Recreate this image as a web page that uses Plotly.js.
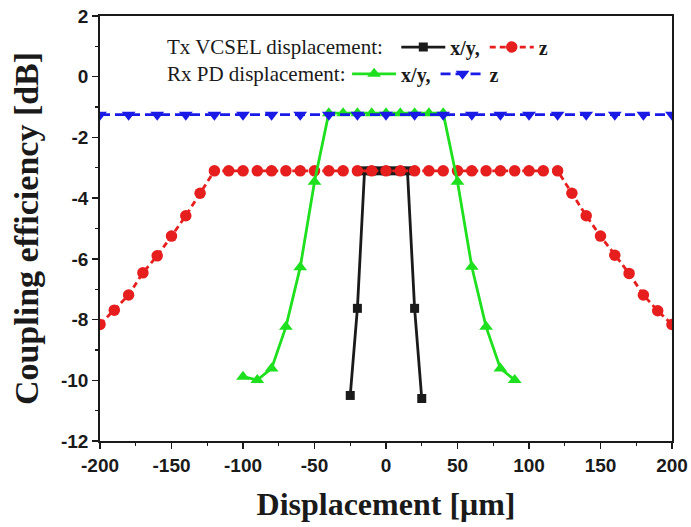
<!DOCTYPE html>
<html>
<head>
<meta charset="utf-8">
<script src="https://cdn.plot.ly/plotly-3.0.1.min.js"></script>
<style>html,body{margin:0;padding:0;background:#fff;}#chart{width:691px;height:527px;}</style>
</head>
<body>
<div id="chart"></div>
<script>
// ---- data ----
const txXYx = [-25, -20, -15, -10, -5, 0, 5, 10, 15, 20, 25];
const txXYy = [-10.5, -7.63, -3.1, -3.1, -3.1, -3.1, -3.1, -3.1, -3.1, -7.63, -10.6];

const txZx = [-200, -190, -180, -170, -160, -150, -140, -130, -120, -110, -100, -90, -80, -70, -60, -50, -40, -30, -20, -10, 0,
              10, 20, 30, 40, 50, 60, 70, 80, 90, 100, 110, 120, 130, 140, 150, 160, 170, 180, 190, 200];
const txZy = [-8.16, -7.69, -7.19, -6.46, -5.9, -5.25, -4.58, -3.84, -3.1, -3.1, -3.1, -3.1, -3.1, -3.1, -3.1, -3.1, -3.1, -3.1, -3.1, -3.1, -3.1,
              -3.1, -3.1, -3.1, -3.1, -3.1, -3.1, -3.1, -3.1, -3.1, -3.1, -3.1, -3.1, -3.84, -4.58, -5.25, -5.88, -6.48, -7.19, -7.71, -8.16];

const rxXYx = [-100, -90, -80, -70, -60, -50, -40, -30, -20, -10, 0, 10, 20, 30, 40, 50, 60, 70, 80, 90];
const rxXYy = [-9.88, -9.99, -9.61, -8.24, -6.28, -3.46, -1.2, -1.2, -1.2, -1.2, -1.2, -1.2, -1.2, -1.2, -1.2, -3.46, -6.26, -8.24, -9.61, -9.99];

const rxZx = [-200, -180, -160, -140, -120, -100, -80, -60, -40, -20, 0, 20, 40, 60, 80, 100, 120, 140, 160, 180, 200];
const rxZy = [-1.25, -1.25, -1.25, -1.25, -1.25, -1.25, -1.25, -1.25, -1.25, -1.25, -1.25, -1.25, -1.25, -1.25, -1.25, -1.25, -1.25, -1.25, -1.25, -1.25, -1.25];

const xTickVals = [-200, -150, -100, -50, 0, 50, 100, 150, 200];
const xTickText = ["-200", "-150", "-100", "-50", "0", "50", "100", "150", "200"];
const xMinorVals = [-175, -125, -75, -25, 25, 75, 125, 175];
const yTickVals = [-12, -10, -8, -6, -4, -2, 0, 2];
const yTickText = ["-12", "-10", "-8", "-6", "-4", "-2", "0", "2"];
const yMinorVals = [-11, -9, -7, -5, -3, -1, 1];

const seriesNames = ["<b>x/y,</b>", "<b>z</b>", "<b>x/y,</b>", "<b>z</b>"];
const rowLabels = ["Tx VCSEL displacement:", "Rx PD displacement:"];

// ---- styling ----
const BLACK = "#1a1a1a", RED = "#e61e1e", GREEN = "#1ee01e", BLUE = "#1a1ae6";
const serif = "Liberation Serif, Times New Roman, serif";
const sans = "Liberation Sans, Arial, sans-serif";

const traces = [
  {x: txXYx, y: txXYy, name: seriesNames[0], type: "scatter", mode: "lines+markers",
   line: {color: BLACK, width: 2.8}, marker: {symbol: "square", size: 9, color: BLACK}, legend: "legend"},
  {x: txZx, y: txZy, name: seriesNames[1], type: "scatter", mode: "lines+markers",
   line: {color: RED, width: 2.8, dash: "6px,4px"}, marker: {symbol: "circle", size: 11.5, color: RED}, legend: "legend"},
  {x: rxXYx, y: rxXYy, name: seriesNames[2], type: "scatter", mode: "lines+markers",
   line: {color: GREEN, width: 2.8}, marker: {symbol: "triangle-up", size: 12, color: GREEN}, legend: "legend2"},
  {x: rxZx, y: rxZy, name: seriesNames[3], type: "scatter", mode: "lines+markers",
   line: {color: BLUE, width: 2.8, dash: "10px,5px"}, marker: {symbol: "triangle-down", size: 12, color: BLUE}, legend: "legend2"}
];

const axisCommon = {
  showline: true, linecolor: BLACK, linewidth: 1.8, mirror: true,
  showgrid: false, zeroline: false, ticks: "outside", ticklen: 6, tickwidth: 1.5, tickcolor: BLACK,
  tickfont: {family: sans, size: 19, color: BLACK, weight: "bold"}
};

const layout = {
  width: 691, height: 527,
  margin: {l: 100, r: 19, t: 16, b: 86},
  paper_bgcolor: "#fff", plot_bgcolor: "#fff",
  showlegend: true,
  xaxis: Object.assign({}, axisCommon, {
    range: [-200, 200], tickmode: "array", tickvals: xTickVals, ticktext: xTickText,
    minor: {tickmode: "array", tickvals: xMinorVals, ticks: "outside", ticklen: 3, tickwidth: 1.2, tickcolor: BLACK},
    title: {text: "Displacement [μm]", font: {family: serif, size: 32, color: BLACK, weight: "bold"}, standoff: 18}
  }),
  yaxis: Object.assign({}, axisCommon, {
    range: [-12, 2], tickmode: "array", tickvals: yTickVals, ticktext: yTickText,
    minor: {tickmode: "array", tickvals: yMinorVals, ticks: "outside", ticklen: 3, tickwidth: 1.2, tickcolor: BLACK},
    title: {text: "Coupling efficiency [dB]\u00a0\u00a0\u00a0\u00a0", font: {family: serif, size: 34, color: BLACK, weight: "bold"}, standoff: 12}
  }),
  legend: {
    orientation: "h", x: 0.518, xanchor: "left", y: 0.927, yanchor: "middle",
    bgcolor: "rgba(0,0,0,0)", borderwidth: 0, font: {family: serif, size: 20, color: BLACK},
    itemwidth: 44, tracegroupgap: 0
  },
  legend2: {
    orientation: "h", x: 0.432, xanchor: "left", y: 0.864, yanchor: "middle",
    bgcolor: "rgba(0,0,0,0)", borderwidth: 0, font: {family: serif, size: 20, color: BLACK},
    itemwidth: 44, tracegroupgap: 0
  },
  annotations: [
    {text: rowLabels[0], xref: "paper", yref: "paper", x: 0.113, y: 0.927, xanchor: "left", yanchor: "middle",
     showarrow: false, font: {family: serif, size: 21, color: BLACK}},
    {text: rowLabels[1], xref: "paper", yref: "paper", x: 0.113, y: 0.864, xanchor: "left", yanchor: "middle",
     showarrow: false, font: {family: serif, size: 21, color: BLACK}}
  ]
};

Plotly.newPlot("chart", traces, layout, {displayModeBar: false, staticPlot: true});
</script>
</body>
</html>
